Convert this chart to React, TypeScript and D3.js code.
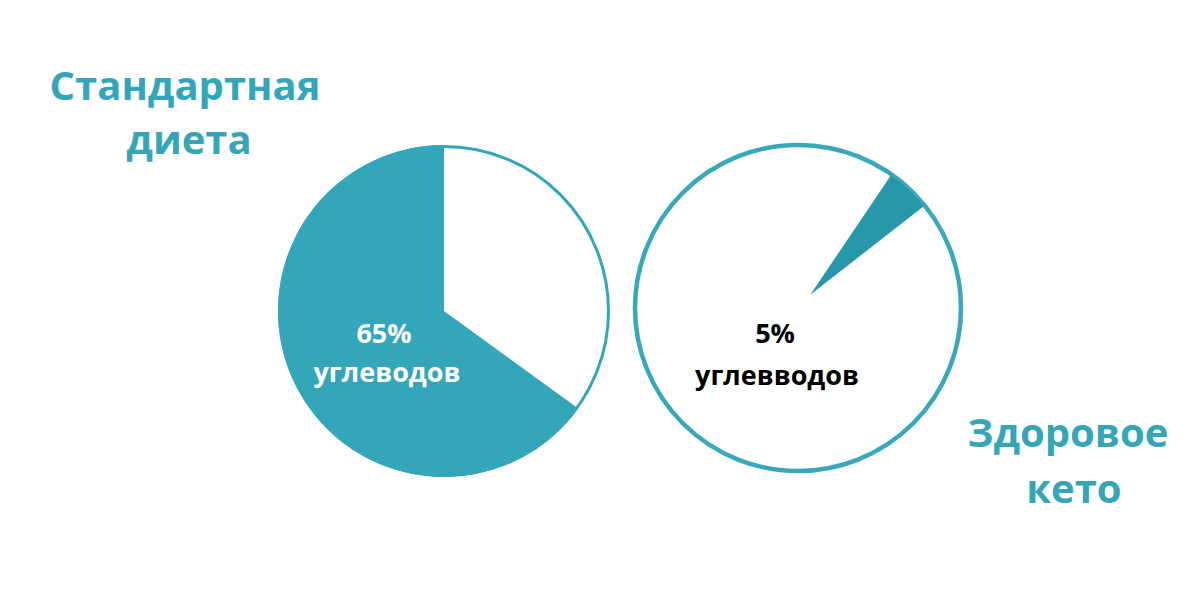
import React, { useEffect, useRef } from 'react';
import * as d3 from 'd3';

// shares of carbs in each diet (percent)
const standardShares = [
  { name: 'other', value: 35 },
  { name: 'carbs', value: 65 },
];
const ketoShares = [
  { name: 'carbs', value: 5 },
  { name: 'other', value: 95 },
];
const standardTitle = ['Стандартная', 'диета'];
const ketoTitle = ['Здоровое', 'кето'];
const standardLabel = ['65%', 'углеводов'];
const ketoLabel = ['5%', 'углевводов'];

const TEAL = '#34a6b9';
const TEAL_DARK = '#2698aa';
const FONT = '"Open Sans", "DejaVu Sans", sans-serif';

const App: React.FC = () => {
  const svgRef = useRef<SVGSVGElement | null>(null);

  useEffect(() => {
    const svg = d3.select(svgRef.current);
    svg.selectAll('*').remove();
    const width = 1200;
    const height = 615;
    svg.append('rect').attr('width', width).attr('height', height).attr('fill', '#fff');

    const deg = Math.PI / 180;

    // left pie: standard diet
    const left = svg.append('g').attr('transform', 'translate(444,311)');
    const r1 = 166;
    left.append('circle').attr('r', r1 - 1.5).attr('fill', '#fff')
      .attr('stroke', TEAL).attr('stroke-width', 3);
    const pie1 = d3.pie<{ name: string; value: number }>().sort(null).value(d => d.value);
    const arc1 = d3.arc<d3.PieArcDatum<{ name: string; value: number }>>()
      .innerRadius(0).outerRadius(r1);
    left.selectAll('path.slice')
      .data(pie1(standardShares).filter(d => d.data.name === 'carbs'))
      .enter().append('path')
      .attr('class', 'slice')
      .attr('d', arc1)
      .attr('fill', TEAL);

    left.selectAll('text.lbl')
      .data(standardLabel)
      .enter().append('text')
      .attr('class', 'lbl')
      .attr('x', (d, i) => (i === 0 ? -60 : -57))
      .attr('y', (d, i) => (i === 0 ? 32 : 71))
      .attr('text-anchor', 'middle')
      .attr('font-family', FONT)
      .attr('font-weight', 700)
      .attr('font-size', 27)
      .attr('fill', '#fff')
      .text(d => d);

    // right pie: keto
    const cx2 = 798;
    const cy2 = 308;
    const right = svg.append('g').attr('transform', `translate(${cx2},${cy2})`);
    right.append('circle').attr('r', 163).attr('fill', '#fff')
      .attr('stroke', '#38a8ba').attr('stroke-width', 4.5);
    const start2 = 34 * deg;
    const pie2 = d3.pie<{ name: string; value: number }>().sort(null).value(d => d.value)
      .startAngle(start2).endAngle(start2 + 2 * Math.PI);
    const arc2 = d3.arc<d3.PieArcDatum<{ name: string; value: number }>>()
      .innerRadius(0).outerRadius(144);
    const offset = 18;
    right.selectAll('path.slice')
      .data(pie2(ketoShares).filter(d => d.data.name === 'carbs'))
      .enter().append('path')
      .attr('class', 'slice')
      .attr('transform', d => {
        const mid = (d.startAngle + d.endAngle) / 2;
        return `translate(${Math.sin(mid) * offset},${-Math.cos(mid) * offset})`;
      })
      .attr('d', arc2)
      .attr('fill', TEAL_DARK);

    right.selectAll('text.lbl')
      .data(ketoLabel)
      .enter().append('text')
      .attr('class', 'lbl')
      .attr('x', (d, i) => (i === 0 ? -23 : -21))
      .attr('y', (d, i) => (i === 0 ? 35 : 77))
      .attr('text-anchor', 'middle')
      .attr('font-family', FONT)
      .attr('font-weight', 700)
      .attr('font-size', 27)
      .attr('fill', '#000')
      .text(d => d);

    // titles
    const titles = [
      { lines: standardTitle, x: [185, 189], y: [100, 154] },
      { lines: ketoTitle, x: [1068, 1074], y: [447, 503] },
    ];
    titles.forEach(t => {
      svg.append('g').selectAll('text')
        .data(t.lines)
        .enter().append('text')
        .attr('x', (d, i) => t.x[i])
        .attr('y', (d, i) => t.y[i])
        .attr('text-anchor', 'middle')
        .attr('font-family', FONT)
        .attr('font-weight', 700)
        .attr('font-size', 40)
        .attr('fill', '#35a6b7')
        .text(d => d);
    });
  }, []);

  return (
    <div>
      <svg
        ref={svgRef}
        width={1200}
        height={615}
        style={{ position: 'absolute', left: 0, top: 0, display: 'block' }}
      ></svg>
    </div>
  );
};

export default App;
